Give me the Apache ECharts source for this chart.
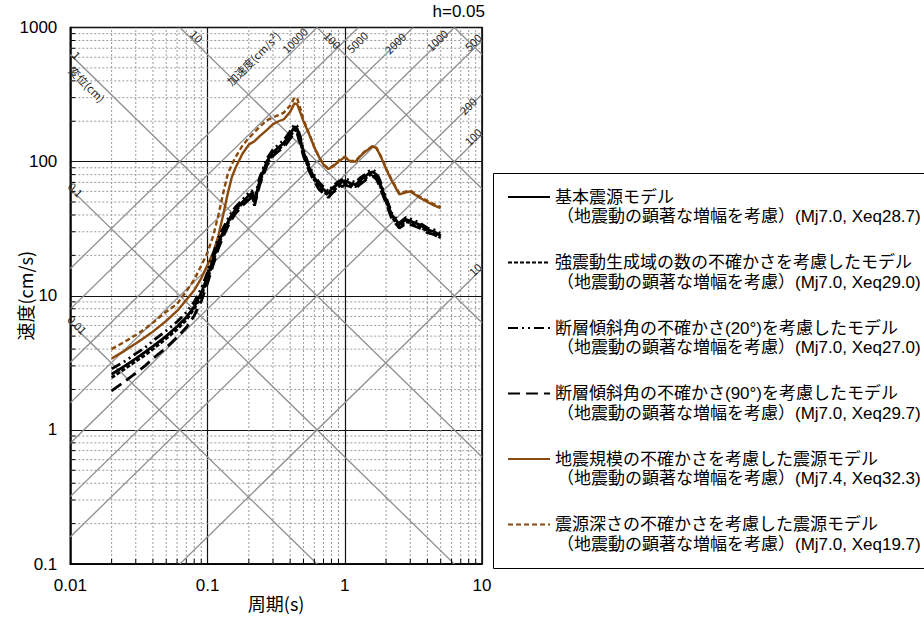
<!DOCTYPE html>
<html><head><meta charset="utf-8">
<script src="https://cdn.jsdelivr.net/npm/echarts@6/dist/echarts.min.js"></script>
<style>html,body{margin:0;padding:0;background:#fff}#c{width:924px;height:617px}</style>
</head><body><div id="c"></div>
<script>
// Periods (s)
const periods = [0.02,0.025,0.03,0.035,0.04,0.05,0.06,0.07,0.08,0.09,
  0.1,0.11,0.12,0.13,0.14,0.15,0.16,0.18,0.2,0.21,
  0.22,0.24,0.27,0.3,0.33,0.36,0.4,0.43,0.45,0.48,
  0.5,0.55,0.6,0.65,0.7,0.76,0.82,0.9,1.0,1.1,
  1.2,1.3,1.4,1.5,1.6,1.7,1.8,1.9,2.0,2.2,
  2.5,2.8,3.0,3.5,4.0,4.5,5.0];
// Velocity response (cm/s)
const svBase = [2.6,3.0,3.4,3.8,4.2,5.0,5.9,6.9,8.3,10.5,
  14,19,25,30,35,40,44,50,56,58,
  50,72,100,118,128,138,160,182,176,140,
  118,90,76,67,62,58,64,68,72,69,
  67,73,77,82,84,80,70,60,52,40,
  34,37,36,34,31,30,28];
const svSmga = [2.45,2.85,3.25,3.6,4.0,4.8,5.6,6.6,8.0,10.0,
  13.2,18,24,29,34,39,43,49,54,56,
  49,70,96,113,124,133,154,172,168,135,
  113,87,73,64,60,56,61,65,69,67,
  65,70,74,79,81,77,67,58,50,38.5,
  33,35.5,35,33,30,29,27];
const svDip20 = [2.85,3.25,3.7,4.1,4.6,5.5,6.4,7.5,9.0,11.3,
  15,20.5,27,32,37,42,46,52,59,61,
  53,76,105,123,134,145,168,190,184,146,
  122,93,79,70,65,60,66,71,75,72,
  70,76,80,85,87,83,73,62,54,41.5,
  35,38.5,37.5,35,32,31,29];
const svDip90 = [1.95,2.3,2.65,3.0,3.4,4.1,4.9,5.8,7.1,9.1,
  12.4,17,22.5,27.5,32.5,37,41,47,52,54,
  47,67,93,110,120,128,148,165,162,130,
  110,85,71,62,58,54,59,63,67,65,
  63,68,72,76,78,74,65,56,49,37.5,
  32,34.5,34,32,29.5,28.5,26.5];
const svMag = [3.4,3.9,4.4,4.9,5.4,6.5,7.7,9.3,11,13.5,
  17,21,28,40,57,76,90,115,134,138,
  142,155,172,190,200,207,235,272,268,225,
  200,160,128,108,95,88,92,100,108,100,
  100,110,118,124,130,126,113,100,88,72,
  57,59,60,54,50,47,45];
const svDepth = [4.0,4.55,5.1,5.65,6.3,7.6,8.7,10.8,13.2,16.8,
  21,28,40,58,80,95,108,132,150,158,
  166,182,203,214,222,232,262,300,296,240,
  205,162,128,108,95,89,93,101,109,101,
  101,111,119,125,131,127,114,101,89,73,
  58,60,61,55,51,48,46];

const seriesNames = [
  '基本震源モデル',
  '強震動生成域の数の不確かさを考慮したモデル',
  '断層傾斜角の不確かさ(20°)を考慮したモデル',
  '断層傾斜角の不確かさ(90°)を考慮したモデル',
  '地震規模の不確かさを考慮した震源モデル',
  '震源深さの不確かさを考慮した震源モデル'
];
const seriesSub = [
  '（地震動の顕著な増幅を考慮）(Mj7.0, Xeq28.7)',
  '（地震動の顕著な増幅を考慮）(Mj7.0, Xeq29.0)',
  '（地震動の顕著な増幅を考慮）(Mj7.0, Xeq27.0)',
  '（地震動の顕著な増幅を考慮）(Mj7.0, Xeq29.7)',
  '（地震動の顕著な増幅を考慮）(Mj7.4, Xeq32.3)',
  '（地震動の顕著な増幅を考慮）(Mj7.0, Xeq19.7)'
];
const seriesValues = [svBase, svSmga, svDip20, svDip90, svMag, svDepth];

// Tripartite reference lines
const accelLines = [10, 100, 200, 500, 1000, 2000, 5000, 10000]; // cm/s^2
const dispLines = [0.01, 0.1, 1, 10, 100, 1000]; // cm
// Diagonal labels: [T, Sv, text, kind]  a = acceleration (up-right), d = displacement (down-right)
const diagLabels = [
  [0.0837, 865, '10', 'd'],
  [0.818, 807, '100', 'd'],
  [0.0112, 625, '1', 'd'],
  [0.0133, 380, '変位(cm)', 'd'],
  [0.0110, 62, '0.1', 'd'],
  [0.0113, 6.1, '0.01', 'd'],
  [0.431, 807, '10000', 'a'],
  [0.215, 590, '加速度(cm/s²)', 'a'],
  [1.225, 781, '5000', 'a'],
  [2.32, 767, '2000', 'a'],
  [4.69, 807, '1000', 'a'],
  [8.57, 781, '500', 'a'],
  [7.88, 261, '200', 'a'],
  [8.57, 154, '100', 'a'],
  [8.87, 15.8, '10', 'a']
];

const xDecades = [0.01, 0.1, 1];
const yDecades = [0.1, 1, 10, 100];
const X_MIN = 0.01, X_MAX = 10, Y_MIN = 0.1, Y_MAX = 1000;

// grid helper data (reference lines, not data marks)
const minorGrid = [];
const ticks = [];
xDecades.forEach(d => { for (let k = 2; k <= 9; k++) { const v = +(k * d).toPrecision(3); minorGrid.push([v, Y_MIN, v, Y_MAX]); ticks.push([v, Y_MIN, 1]); } });
yDecades.forEach(d => { for (let k = 2; k <= 9; k++) { const v = +(k * d).toPrecision(3); minorGrid.push([X_MIN, v, X_MAX, v]); ticks.push([X_MIN, v, 0]); } });
const diag = [];
accelLines.forEach(a => diag.push([X_MIN, a * X_MIN / (2 * Math.PI), X_MAX, a * X_MAX / (2 * Math.PI)]));
dispLines.forEach(dd => diag.push([X_MIN, 2 * Math.PI * dd / X_MIN, X_MAX, 2 * Math.PI * dd / X_MAX]));

const BROWN = '#8a4a0e';
const styles = [
  {color: '#000', width: 2.8, type: 'solid'},
  {color: '#000', width: 2.8, type: [4, 2]},
  {color: '#000', width: 2.8, type: [10, 4, 2, 4, 2, 4]},
  {color: '#000', width: 2.8, type: [12, 6]},
  {color: BROWN, width: 2.4, type: 'solid'},
  {color: BROWN, width: 2.4, type: [5, 3]}
];

const FONT_JP = '"Noto Sans CJK JP", sans-serif';
const FONT_LEG = '"Liberation Sans", "Noto Sans CJK JP", sans-serif';
const FONT_NUM = '"Liberation Sans", Arial, sans-serif';
const LEG_LEFT = 507, LEG_TOP = 186.5, LEG_STEP = 65.5, LEG_TEXT_X = 557;

function lineItem(params, api, style) {
  const p1 = api.coord([api.value(0), api.value(1)]);
  const p2 = api.coord([api.value(2), api.value(3)]);
  return {type: 'line', shape: {x1: p1[0], y1: p1[1], x2: p2[0], y2: p2[1]}, style: style, silent: true};
}
const fmt = v => String(+(+v).toPrecision(6));

const chart = echarts.init(document.getElementById('c'), null, {renderer: 'svg'});

const graphics = [
  {type: 'rect', left: 491, top: 171, shape: {width: 431, height: 395}, style: {fill: 'none', stroke: '#000', lineWidth: 1}, z: 0},
  {type: 'text', right: 924 - 485, top: 3, style: {text: 'h=0.05', fontSize: 17, fontFamily: FONT_NUM, fill: '#000'}}
];
seriesSub.forEach((s, i) => graphics.push({
  type: 'text', left: LEG_TEXT_X, top: LEG_TOP + 10.5 + 21 + LEG_STEP * i - 10,
  style: {text: s, fontSize: 17, fontFamily: FONT_LEG, fill: '#000'}
}));

const option = {
  animation: false,
  backgroundColor: '#fff',
  grid: {left: 70.3, right: 442, top: 27.5, bottom: 50.5, show: true, borderColor: '#000', borderWidth: 1.5, backgroundColor: 'transparent'},
  xAxis: {
    type: 'log', logBase: 10, min: X_MIN, max: X_MAX,
    name: '周期(s)', nameLocation: 'middle', nameGap: 30, nameMoveOverlap: false,
    nameTextStyle: {fontSize: 18, fontFamily: FONT_JP, color: '#000'},
    axisLine: {show: true, lineStyle: {color: '#000', width: 1.5}},
    axisTick: {show: false},
    axisLabel: {fontSize: 17, fontFamily: FONT_NUM, color: '#000', margin: 13, formatter: fmt},
    splitLine: {show: true, lineStyle: {color: '#111', width: 1.2}}
  },
  yAxis: {
    type: 'log', logBase: 10, min: Y_MIN, max: Y_MAX,
    name: '速度(cm/s)', nameLocation: 'middle', nameGap: 36, nameRotate: 90, nameMoveOverlap: false,
    nameTextStyle: {fontSize: 18, fontFamily: FONT_JP, color: '#000'},
    axisLine: {show: true, lineStyle: {color: '#000', width: 1.5}},
    axisTick: {show: false},
    axisLabel: {fontSize: 17, fontFamily: FONT_NUM, color: '#000', margin: 13, formatter: fmt},
    splitLine: {show: true, lineStyle: {color: '#111', width: 1.2}}
  },
  legend: {
    orient: 'vertical', left: LEG_LEFT, top: LEG_TOP, padding: 0,
    itemWidth: 42, itemHeight: 12, itemGap: LEG_STEP - 21, selectedMode: false,
    itemStyle: {opacity: 0, color: 'rgba(0,0,0,0)', borderWidth: 0},
    textStyle: {fontSize: 17, lineHeight: 21, fontFamily: FONT_LEG, color: '#000'},
    data: seriesNames
  },
  graphic: graphics,
  series: [
    {type: 'custom', name: 'minorGrid', clip: true, silent: true, z: 1, data: minorGrid,
      renderItem: (p, api) => lineItem(p, api, {stroke: '#9a9a9a', lineWidth: 1, lineDash: [2, 2]})},
    {type: 'custom', name: 'diag', clip: true, silent: true, z: 2, data: diag,
      renderItem: (p, api) => lineItem(p, api, {stroke: '#8f8f8f', lineWidth: 1.3})},
    {type: 'custom', name: 'ticks', clip: false, silent: true, z: 2, data: ticks,
      renderItem: (p, api) => {
        const c = api.coord([api.value(0), api.value(1)]);
        const t = api.value(2);
        const x2 = t === 0 ? c[0] + 5 : c[0];
        const y2 = t === 0 ? c[1] : c[1] - 5;
        return {type: 'line', shape: {x1: c[0], y1: c[1], x2: x2, y2: y2}, style: {stroke: '#000', lineWidth: 1}, silent: true};
      }},
    {type: 'custom', name: 'diagLabels', clip: false, silent: true, z: 3, data: diagLabels.map(l => [l[0], l[1]]),
      renderItem: (p, api) => {
        const c = api.coord([api.value(0), api.value(1)]);
        const l = diagLabels[p.dataIndex];
        return {type: 'text', x: c[0], y: c[1], rotation: l[3] === 'a' ? Math.PI / 4 : -Math.PI / 4,
          style: {text: l[2], fontSize: 11, fontFamily: FONT_JP, fill: '#222', align: 'center', verticalAlign: 'middle'}, silent: true};
      }}
  ].concat(seriesNames.map((n, i) => ({
    type: 'line', name: n, symbol: 'none', z: 5 + (i >= 4 ? 0 : 1),
    data: periods.map((t, j) => [t, seriesValues[i][j]]),
    lineStyle: styles[i], itemStyle: {color: styles[i].color}, emphasis: {disabled: true}
  })))
};
chart.setOption(option);
</script></body></html>
